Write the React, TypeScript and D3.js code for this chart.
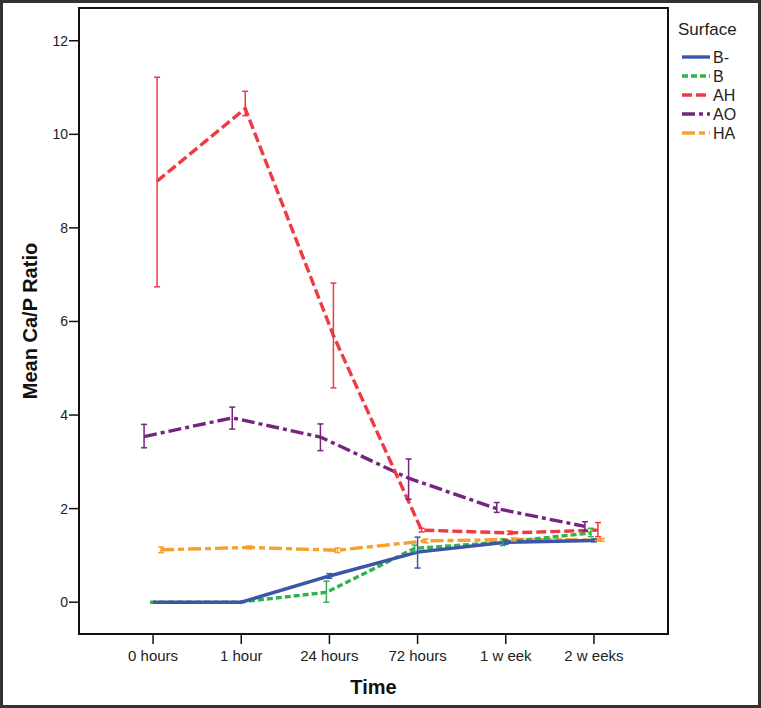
import React from "react";
import * as d3 from "d3";

const categories = ["0 hours", "1 hour", "24 hours", "72 hours", "1 w eek", "2 w eeks"];
const seriesNames = ["B-", "B", "AH", "AO", "HA"];
const seriesColors = ["#3c55a8", "#2fb34b", "#ee3a43", "#74267f", "#f6a02d"];
const seriesDash = ["", "6,3", "10,4", "13,4,4,4", "13,4,6,4"];
const dodge = [0, -3, 4, -9, 8];

const meanBminus = [0, 0, 0.56, 1.07, 1.28, 1.32];
const meanB = [0, 0, 0.21, 1.15, 1.28, 1.48];
const meanAH = [9.0, 10.55, 5.7, 1.54, 1.48, 1.54];
const meanAO = [3.54, 3.94, 3.53, 2.65, 2.0, 1.62];
const meanHA = [1.12, 1.17, 1.11, 1.31, 1.34, 1.33];

const lowBminus = [0, 0, 0.51, 0.73, 1.24, 1.29];
const highBminus = [0, 0, 0.61, 1.39, 1.33, 1.35];
const lowB = [0, 0, 0.0, 1.08, 1.21, 1.4];
const highB = [0, 0, 0.45, 1.22, 1.35, 1.58];
const lowAH = [6.74, 10.4, 4.58, 1.5, 1.45, 1.4];
const highAH = [11.22, 10.92, 6.82, 1.58, 1.52, 1.7];
const lowAO = [3.3, 3.7, 3.24, 2.2, 1.92, 1.52];
const highAO = [3.8, 4.17, 3.81, 3.06, 2.13, 1.72];
const lowHA = [1.06, 1.14, 1.06, 1.27, 1.31, 1.3];
const highHA = [1.18, 1.2, 1.16, 1.35, 1.37, 1.36];

const yTicks = [0, 2, 4, 6, 8, 10, 12];

const means = [meanBminus, meanB, meanAH, meanAO, meanHA];
const lows = [lowBminus, lowB, lowAH, lowAO, lowHA];
const highs = [highBminus, highB, highAH, highAO, highHA];

const W = 761;
const H = 708;
const plot = { left: 79, right: 668, top: 8, bottom: 634 };
const FONT = "'Liberation Sans', Arial, Helvetica, sans-serif";

export default function App() {
  const x = d3.scalePoint<string>().domain(categories).range([plot.left, plot.right]).padding(0.84);
  const y = d3.scaleLinear().domain([-0.68, 12.7]).range([plot.bottom, plot.top]);

  const line = d3
    .line<[number, number]>()
    .x((d) => d[0])
    .y((d) => d[1]);

  const drawOrder = [4, 3, 1, 0, 2];

  return (
    <svg
      width={W}
      height={H}
      style={{ position: "absolute", left: 0, top: 0, background: "#fff" }}
      fontFamily={FONT}
    >
      <rect x={0} y={0} width={W} height={H} fill="#fff" />
      <rect x={1.5} y={1.5} width={W - 3} height={H - 3} fill="none" stroke="#333" strokeWidth={3} />

      {/* series lines */}
      {drawOrder.map((si) => {
        const pts: [number, number][] = means[si].map((v, i) => [
          (x(categories[i]) as number) + dodge[si],
          y(v),
        ]);
        return (
          <path
            key={"l" + si}
            d={line(pts) || ""}
            fill="none"
            stroke={seriesColors[si]}
            strokeWidth={3.4}
            strokeDasharray={seriesDash[si] || undefined}
          />
        );
      })}

      {/* error bars */}
      {drawOrder.map((si) =>
        means[si].map((v, i) => {
          const cx = (x(categories[i]) as number) + dodge[si];
          const y1 = y(highs[si][i]);
          const y2 = y(lows[si][i]);
          if (Math.abs(y2 - y1) < 0.5) return null;
          return (
            <g key={"e" + si + "-" + i} stroke={seriesColors[si]} strokeWidth={1.5}>
              <line x1={cx} x2={cx} y1={y1} y2={y2} />
              <line x1={cx - 3} x2={cx + 3} y1={y1} y2={y1} />
              <line x1={cx - 3} x2={cx + 3} y1={y2} y2={y2} />
            </g>
          );
        })
      )}

      {/* plot frame */}
      <rect
        x={plot.left}
        y={plot.top}
        width={plot.right - plot.left}
        height={plot.bottom - plot.top}
        fill="none"
        stroke="#111"
        strokeWidth={2}
      />

      {/* y axis ticks */}
      {yTicks.map((t) => (
        <g key={"yt" + t}>
          <line x1={plot.left - 10} x2={plot.left} y1={y(t)} y2={y(t)} stroke="#111" strokeWidth={1.5} />
          <text x={plot.left - 11} y={y(t)} dy="0.35em" textAnchor="end" fontSize={14} fill="#222">
            {t}
          </text>
        </g>
      ))}

      {/* x axis ticks */}
      {categories.map((c) => (
        <g key={"xt" + c}>
          <line
            x1={x(c) as number}
            x2={x(c) as number}
            y1={plot.bottom}
            y2={plot.bottom + 10}
            stroke="#111"
            strokeWidth={1.5}
          />
          <text x={x(c) as number} y={plot.bottom + 27} textAnchor="middle" fontSize={15} fill="#222">
            {c}
          </text>
        </g>
      ))}

      {/* axis titles */}
      <text
        transform={`translate(37, ${(plot.top + plot.bottom) / 2}) rotate(-90)`}
        textAnchor="middle"
        fontSize={20}
        fontWeight="bold"
        fill="#111"
      >
        Mean Ca/P Ratio
      </text>
      <text x={(plot.left + plot.right) / 2} y={694} textAnchor="middle" fontSize={20} fontWeight="bold" fill="#111">
        Time
      </text>

      {/* legend */}
      <text x={678} y={35} fontSize={17} fill="#222">
        Surface
      </text>
      {seriesNames.map((n, i) => (
        <g key={"lg" + n}>
          <line
            x1={682}
            x2={710}
            y1={57 + i * 19}
            y2={57 + i * 19}
            stroke={seriesColors[i]}
            strokeWidth={3.4}
            strokeDasharray={seriesDash[i] || undefined}
          />
          <text x={713} y={57 + i * 19} dy="0.35em" fontSize={16} fill="#222">
            {n}
          </text>
        </g>
      ))}
    </svg>
  );
}
